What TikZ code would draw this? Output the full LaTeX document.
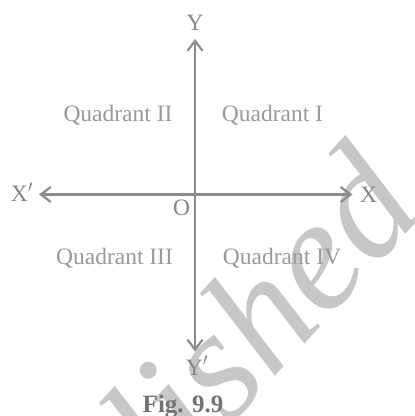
\documentclass[tikz,border=0pt]{standalone}
\usepackage{fontspec}
\setmainfont{Liberation Serif}
\usetikzlibrary{arrows.meta}

\begin{document}
\begin{tikzpicture}[x=1pt,y=1pt,>={Straight Barb[length=10pt,width=15pt]},
  font=\fontsize{23.5}{28}\selectfont,line cap=round,
  axis/.style={draw=black!45,line width=2.2pt,->},
  lbl/.style={text=black!47,inner sep=0pt,anchor=base},
  quad/.style={text=black!40,inner sep=0pt,anchor=base},
  figlbl/.style={text=black!55,inner sep=0pt,anchor=base,font=\fontsize{25}{28}\selectfont\bfseries},
  stamp/.style={text=black!22,inner sep=0pt,anchor=base west,rotate=47.5,font=\fontsize{160}{160}\selectfont\itshape}]
\useasboundingbox (0,0) rectangle (415,416);
\begin{scope}
\clip (0,0) rectangle (415,416);
\node[stamp] (stamp) at (169,-76) {lished};
\end{scope}
\coordinate (O) at (195,221.5);
\coordinate (xr) at (352.5,221.5);
\coordinate (xl) at (39,221.5);
\coordinate (yt) at (195,377);
\coordinate (yb) at (195,64.5);
\draw[axis] (O) -- (xr);
\draw[axis] (O) -- (xl);
\draw[axis] (O) -- (yt);
\draw[axis] (O) -- (yb);
\node[lbl] (X) at (368.5,213) {X};
\node[lbl] (Xp) at (22,214) {X$'$};
\node[lbl] (Y) at (195,385.5) {Y};
\node[lbl] (Yp) at (197,41) {Y$'$};
\node[lbl] (Olbl) at (181.7,200) {O};
\node[quad] (q1) at (272.5,294) {Quadrant I};
\node[quad] (q2) at (118,294) {Quadrant II};
\node[quad] (q3) at (114.5,151) {Quadrant III};
\node[quad] (q4) at (282,151) {Quadrant IV};
\node[figlbl] (fig) at (183,3.5) {Fig. 9.9};
\end{tikzpicture}
\end{document}
